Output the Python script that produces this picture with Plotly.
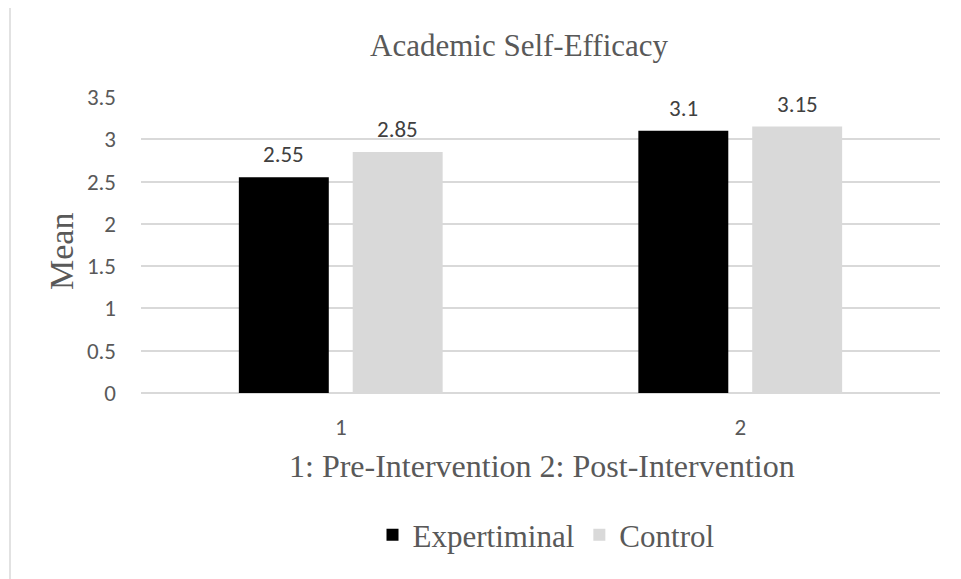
import plotly.graph_objects as go

categories = ["1", "2"]
series_names = ["Expertiminal", "Control"]
experimental = [2.55, 3.10]
control = [2.85, 3.15]
y_ticks = [0, 0.5, 1, 1.5, 2, 2.5, 3, 3.5]
y_tick_labels = ["0", "0.5", "1", "1.5", "2", "2.5", "3", "3.5"]

title_text = "Academic Self-Efficacy"
x_title = "1: Pre-Intervention 2: Post-Intervention"
y_title = "Mean"

colors = ["#000000", "#D9D9D9"]
serif = "Liberation Serif, Times New Roman, serif"
sans = "Calibri, Carlito, Lato, sans-serif"
gray_text = "#595959"

OFF = 8  # page body margin in the browser
W, H = 961 - OFF, 579 - OFF
L, R, T, B = 141 - OFF, 21, 97 - OFF, 186
pw, ph = W - L - R, H - T - B
PLOT_LEFT, PLOT_BOTTOM = 141, 393  # screen coordinates


def px_x(x):
    return (x - PLOT_LEFT) / pw


def px_y(y):
    return (PLOT_BOTTOM - y) / ph


fig = go.Figure()
for name, vals, col in zip(series_names, [experimental, control], colors):
    fig.add_trace(go.Bar(x=categories, y=vals, name=name,
                         marker=dict(color=col, line=dict(width=0)),
                         hoverinfo="skip"))

annotations = []
# data labels, positioned from the data values through the axes
for si, vals in enumerate([experimental, control]):
    shift = -57 if si == 0 else 57
    for ci, v in enumerate(vals):
        annotations.append(dict(x=ci, y=v, xref="x", yref="y", text=f"{v:g}",
                                showarrow=False, xshift=shift, yshift=23,
                                yanchor="middle",
                                font=dict(family=sans, size=23, color="#404040")))

annotations.append(dict(x=px_x(519), y=px_y(46), xref="paper", yref="paper",
                        text=title_text, showarrow=False, xanchor="center", yanchor="middle",
                        font=dict(family=serif, size=31, color=gray_text)))
annotations.append(dict(x=px_x(541.5), y=px_y(466), xref="paper", yref="paper",
                        text=x_title, showarrow=False, xanchor="center", yanchor="middle",
                        font=dict(family=serif, size=32, color=gray_text)))
annotations.append(dict(x=px_x(61), y=px_y(252), xref="paper", yref="paper",
                        text=y_title, showarrow=False, textangle=-90,
                        xanchor="center", yanchor="middle",
                        font=dict(family=serif, size=34, color=gray_text)))

fig.update_layout(
    width=W, height=H,
    margin=dict(l=L, r=R, t=T, b=B, pad=0),
    paper_bgcolor="white", plot_bgcolor="white",
    barmode="group", bargap=0.43, bargroupgap=0.21,
    showlegend=True,
    legend=dict(orientation="h", x=px_x(546), xanchor="center",
                y=px_y(535), yanchor="middle",
                font=dict(family=serif, size=31, color=gray_text),
                bgcolor="rgba(0,0,0,0)", itemclick=False),
    annotations=annotations,
    shapes=[dict(type="rect", xref="paper", yref="paper",
                 x0=px_x(10), x1=1.3, y0=-1.2, y1=px_y(7),
                 line=dict(color="#D9D9D9", width=1.5), layer="below")],
    xaxis=dict(type="category", range=[-0.5, len(categories) - 0.5],
               showgrid=False, showline=False, ticks="",
               tickfont=dict(family=sans, size=23, color=gray_text),
               ticklabelstandoff=18, fixedrange=True),
    yaxis=dict(range=[0, 3.5], tickvals=y_ticks, ticktext=y_tick_labels,
               showgrid=True, gridcolor="#D9D9D9", gridwidth=1.5,
               zeroline=True, zerolinecolor="#D9D9D9", zerolinewidth=1.5,
               showline=False, ticks="",
               tickfont=dict(family=sans, size=23, color=gray_text),
               ticklabelstandoff=24, fixedrange=True),
)

fig.write_html("out.html", config={"displayModeBar": False})
